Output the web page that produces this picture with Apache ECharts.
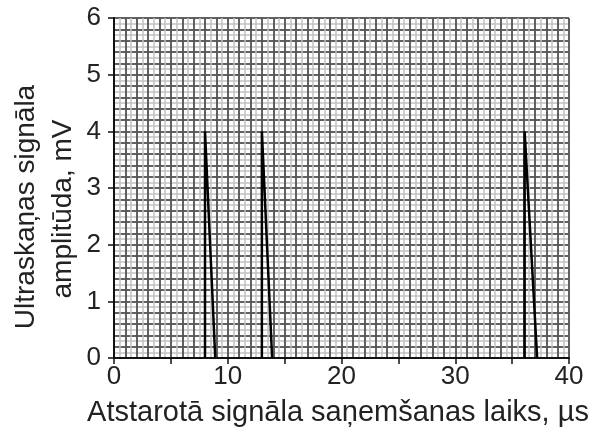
<!DOCTYPE html>
<html>
<head>
<meta charset="utf-8">
<script src="https://cdn.jsdelivr.net/npm/echarts@6/dist/echarts.min.js"></script>
<style>
  html, body { margin: 0; padding: 0; background: #fff; }
  #chart { width: 593px; height: 435px; }
</style>
</head>
<body>
<div id="chart"></div>
<script>
// signal peaks: time (µs) and amplitude (mV)
var peak1Time = [8.0, 8.0, 8.9];
var peak1Amp = [0, 4, 0];
var peak2Time = [13.0, 13.0, 13.9];
var peak2Amp = [0, 4, 0];
var peak3Time = [36.1, 36.1, 37.2];
var peak3Amp = [0, 4, 0];

var xTitle = 'Atstarotā signāla saņemšanas laiks, µs';
var yTitle1 = 'Ultraskaņas signāla';
var yTitle2 = 'amplitūda, mV';

var font = '"Liberation Sans", Arial, sans-serif';

function pairs(xs, ys) {
    var out = [];
    for (var i = 0; i < xs.length; i++) out.push([xs[i], ys[i]]);
    return out;
}

// helper axes only used for drawing the graph-paper lines
function gridX(step, color, width) {
    return {
        type: 'value', min: 0, max: 40, interval: step,
        axisLine: { show: false }, axisTick: { show: false }, axisLabel: { show: false },
        splitLine: { show: true, lineStyle: { color: color, width: width } }
    };
}
function gridY(step, color, width) {
    return {
        type: 'value', min: 0, max: 6, interval: step,
        axisLine: { show: false }, axisTick: { show: false }, axisLabel: { show: false },
        splitLine: { show: true, lineStyle: { color: color, width: width } }
    };
}

var chart = echarts.init(document.getElementById('chart'));
var peakStyle = {
    type: 'line', xAxisIndex: 0, yAxisIndex: 0, symbol: 'none',
    lineStyle: { color: '#000', width: 2.5 }, z: 10
};
var titleStyle = { fill: '#222', fontSize: 28, fontFamily: font };

chart.setOption({
    animation: false,
    grid: { left: 114, right: 24, top: 18, bottom: 77 },
    xAxis: [
        {
            type: 'value', min: 0, max: 40, interval: 10,
            axisLine: { show: true, lineStyle: { color: '#111', width: 2 } },
            axisTick: { show: true, length: 6, lineStyle: { color: '#111', width: 1.5 } },
            minorTick: { show: true, splitNumber: 2, length: 6, lineStyle: { color: '#111', width: 1.5 } },
            axisLabel: { color: '#222', fontSize: 26, fontFamily: font, margin: 6 },
            splitLine: { show: false }, z: 5
        },
        gridX(0.5, '#c2c2c2', 1.5),
        gridX(1, '#3c3c3c', 1.5)
    ],
    yAxis: [
        {
            type: 'value', min: 0, max: 6, interval: 1,
            axisLine: { show: true, lineStyle: { color: '#111', width: 2 } },
            axisTick: { show: true, length: 6, lineStyle: { color: '#111', width: 1.5 } },
            axisLabel: { color: '#222', fontSize: 26, fontFamily: font, margin: 13 },
            splitLine: { show: false }, z: 5
        },
        gridY(0.1, '#c2c2c2', 1.5),
        gridY(0.2, '#3c3c3c', 1.5)
    ],
    graphic: [
        { type: 'text', x: 338, y: 413, style: Object.assign({ text: xTitle, align: 'center', verticalAlign: 'middle' }, titleStyle, { fontSize: 29 }) },
        { type: 'text', x: 26, y: 207, rotation: Math.PI / 2, style: Object.assign({ text: yTitle1, align: 'center', verticalAlign: 'middle' }, titleStyle) },
        { type: 'text', x: 63, y: 209, rotation: Math.PI / 2, style: Object.assign({ text: yTitle2, align: 'center', verticalAlign: 'middle' }, titleStyle) }
    ],
    series: [
        Object.assign({}, peakStyle, { data: pairs(peak1Time, peak1Amp) }),
        Object.assign({}, peakStyle, { data: pairs(peak2Time, peak2Amp) }),
        Object.assign({}, peakStyle, { data: pairs(peak3Time, peak3Amp) }),
        // empty series so the grid-line axes get drawn
        { type: 'line', xAxisIndex: 1, yAxisIndex: 1, data: [], symbol: 'none' },
        { type: 'line', xAxisIndex: 2, yAxisIndex: 2, data: [], symbol: 'none' }
    ]
});
</script>
</body>
</html>
